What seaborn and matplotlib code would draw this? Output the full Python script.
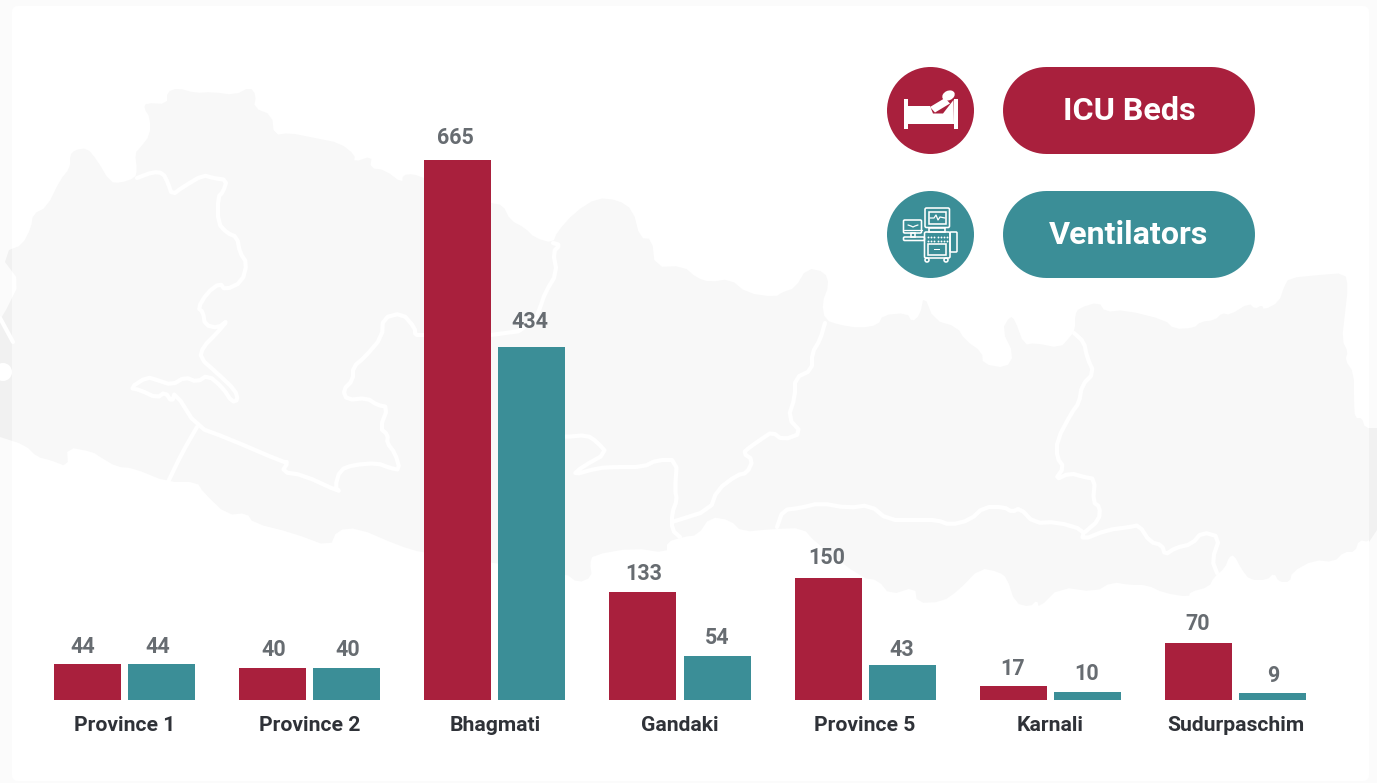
import numpy as np
import pandas as pd
import matplotlib
matplotlib.use("Agg")
import matplotlib.pyplot as plt
from matplotlib.patches import Polygon, Circle, Rectangle, FancyBboxPatch, Ellipse
import seaborn as sns

# ---- data ----
provinces = ["Province 1", "Province 2", "Bhagmati", "Gandaki", "Province 5", "Karnali", "Sudurpaschim"]
icu_beds = [44, 40, 665, 133, 150, 17, 70]
ventilators = [44, 40, 434, 54, 43, 10, 9]
series_names = ["ICU Beds", "Ventilators"]

# ---- layout tweaks for the value labels (pixels: sideways shift, rise above the bar top) ----
label_dx = [[-4.5, 1.5, -2.5, 0.5, -1.5, -0.5, -0.5], [-3.5, 1.5, -1.5, 0.5, -0.5, -0.5, 0.5]]
label_rise = [[17, 18, 22, 18, 20, 17, 19], [17, 18, 25, 18, 15, 18, 17]]

RED = "#a9203d"
TEAL = "#3b8e97"
VALUE_C = "#676c71"
LABEL_C = "#2f3238"
PAGE = "#fbfbfb"
MAP_IN = "#f8f8f8"
MAP_OUT = "#f1f1f1"

sns.set_theme(style="white")
plt.rcParams["font.family"] = ["Roboto", "DejaVu Sans"]

W, H = 1377, 783
fig = plt.figure(figsize=(W / 100, H / 100), dpi=100, facecolor=PAGE)

# ---- decoration layer in pixel coordinates ----
bg = fig.add_axes([0, 0, 1, 1], zorder=0)
bg.set_xlim(0, W)
bg.set_ylim(H, 0)
bg.axis("off")

outline = [(0,320),(6,310),(20,282),(5,262),(9,250),(22,245),(31,228),(33,214),(47,207),(60,180),(70,168),(70,155),
 (75,150),(87,148),(97,160),(110,182),(120,183),(135,178),(137,170),(135,153),(140,148),(150,135),(150,118),(144,108),
 (146,103),(167,104),(167,92),(178,88),(195,93),(212,92),(235,95),(250,87),(256,95),(254,108),(272,115),(274,135),
 (290,133),(310,137),(315,138),(340,143),(355,155),(354,162),(372,156),(370,168),(385,170),(402,183),(403,175),(413,174),
 (424,178),(490,203),(503,205),(510,220),(525,228),(535,238),(553,243),(557,232),(575,212),(597,198),(618,200),(633,210),
 (640,238),(652,239),(655,267),(683,266),(697,278),(710,282),(730,279),(747,293),(775,297),(783,292),(795,288),(807,268),
 (825,272),(829,285),(822,303),(825,320),(840,325),(860,328),(878,325),(883,315),(907,313),(912,322),(920,315),(924,295),
 (934,320),(957,327),(965,340),(982,352),(983,364),(1006,368),(1014,355),(1002,330),(1010,316),(1015,320),(1024,345),
 (1035,343),(1060,348),(1070,337),(1075,330),(1075,315),(1079,308),(1099,302),(1105,312),(1125,310),(1165,320),(1174,329),
 (1194,328),(1200,322),(1215,320),(1222,313),(1230,315),(1249,303),(1255,309),(1262,305),(1264,310),(1279,302),(1284,287),
 (1289,278),(1319,275),(1345,273),(1348,287),(1345,313),(1342,340),(1348,352),(1345,360),(1354,373),(1354,403),(1355,418),
 (1362,418),(1365,428),(1377,428),(1377,530),(1369,542),(1359,540),(1355,552),(1344,552),(1334,562),(1314,560),(1292,572),
 (1290,582),(1279,582),(1274,573),(1267,580),(1250,580),(1242,570),(1234,555),(1229,557),(1225,568),(1214,577),(1209,587),
 (1190,592),(1189,597),(1164,593),(1147,585),(1130,585),(1112,582),(1095,592),(1060,587),(1039,608),(1037,600),(1030,607),
 (1015,603),(1007,578),(999,572),(980,568),(959,590),(942,602),(917,603),(915,587),(890,595),(878,580),(862,578),(815,542),
 (803,528),(773,529),(742,532),(730,520),(710,517),(698,535),(683,537),(667,542),(667,553),(633,548),(593,555),(590,563),
 (592,577),(578,583),(565,573),(423,553),(397,545),(358,528),(337,530),(330,547),(293,533),(253,523),(247,513),(227,515),
 (203,492),(197,482),(167,482),(133,468),(117,467),(100,457),(93,452),(67,447),(68,467),(50,460),(37,457),(25,445),(0,437)]

borders = [
 [(137,178),(153,172),(163,173),(168,183),(172,195),(183,187),(203,175),(213,178),(227,180),(223,192),(218,197),(218,223),
  (227,233),(237,237),(240,253),(247,263),(242,282),(225,290),(220,283),(207,293),(198,308),(203,312),(205,325),(218,328),
  (228,320),(217,333),(203,347),(200,358),(217,373),(235,390),(238,400),(232,402),(223,388),(208,375),(197,382),(185,377),
  (172,385),(157,380),(147,377),(130,388),(140,390),(157,398),(165,392),(172,402),(175,392),(197,427),(227,438),(283,462),
  (288,462),(282,472),(303,475),(340,492),(335,487),(340,470),(353,465),(377,463),(390,468),(400,470),(395,453),(387,443),
  (388,435),(380,428),(388,407),(377,405),(367,398),(347,400),(343,390),(353,380),(353,367),(365,357),(382,337),(383,318),
  (402,313),(415,328),(415,335),(423,335),(513,335),(535,320),(540,308),(545,293),(557,273),(553,252),(560,245),(553,243)],
 [(197,427),(182,453),(168,482)],
 [(500,437),(565,437),(587,435),(597,442),(607,453),(582,467),(573,475),(598,468),(615,467),(643,467),(657,460),(677,460),
  (675,490),(677,500),(672,513),(672,530),(680,537)],
 [(672,522),(710,510),(717,490),(737,475),(747,473),(753,460),(743,453),(750,447),(763,438),(772,432),(783,440),(802,433),
  (788,418),(795,397),(795,378),(812,370),(812,353),(820,340),(825,323)],
 [(777,527),(783,510),(800,508),(820,503),(848,508),(870,505),(888,520),(917,520),(937,520),(950,525),(970,520),(984,507),
  (1004,507),(1012,512),(1020,508),(1034,523),(1057,522),(1084,530),(1082,540),(1107,530),(1130,527),(1139,525),(1150,542),
  (1162,545),(1165,555),(1175,548),(1192,544),(1202,532),(1220,537),(1212,560),(1217,573)],
 [(1074,333),(1084,342),(1087,357),(1094,373),(1082,385),(1079,403),(1072,412),(1057,440),(1057,458),(1064,467),(1055,480),
  (1070,473),(1084,477),(1095,479),(1093,502),(1100,507),(1099,520),(1085,532)],
 [(0,318),(13,342)],
]

def chaikin(pts, closed=False):
    p = np.asarray(pts, float)
    q = np.roll(p, -1, axis=0)
    a, b = 0.75 * p + 0.25 * q, 0.25 * p + 0.75 * q
    if not closed:
        a, b = a[:-1], b[:-1]
        out = np.empty((2 * len(a), 2)); out[0::2] = a; out[1::2] = b
        return np.vstack([p[0], out, p[-1]])
    out = np.empty((2 * len(a), 2)); out[0::2] = a; out[1::2] = b
    return out

def pill(x0, x1, y0, y1):
    r = (y1 - y0) / 2
    cy = (y0 + y1) / 2
    t = np.linspace(-np.pi / 2, np.pi / 2, 40)
    right = np.c_[x1 - r + r * np.cos(t), cy + r * np.sin(t)]
    left = np.c_[x0 + r - r * np.cos(t[::-1]), cy + r * np.sin(t[::-1])]
    return np.vstack([right, left])

# card (white, softly rounded); the map shows darker outside it
bg.add_patch(Polygon(outline, closed=True, fc=MAP_OUT, ec="none", zorder=1))
card = FancyBboxPatch((15, 9), 1351, 769, boxstyle="round,pad=3,rounding_size=6", fc="white", ec="none", zorder=2)
bg.add_patch(card)
m = Polygon(chaikin(outline, True), closed=True, fc=MAP_IN, ec="none", zorder=3)
bg.add_patch(m)
m.set_clip_path(card)
bg.add_patch(Circle((3, 372), 9, fc="white", ec="none", zorder=4))
for b in borders:
    bg.plot(*chaikin(b).T, color="white", lw=3.0, solid_joinstyle="round", solid_capstyle="round", zorder=4)

# ---- legend pills ----
for y0, name, col in zip((67, 191), series_names, (RED, TEAL)):
    bg.add_patch(Circle((930.5, y0 + 43.5), 43.5, fc=col, ec="none", zorder=5))
    bg.add_patch(Polygon(pill(1003, 1255, y0, y0 + 87), closed=True, fc=col, ec="none", zorder=5))
    bg.text(1129, y0 + 44, name, color="white", fontsize=23.2, fontweight="bold", ha="center", va="center", zorder=6)

# bed icon
w = dict(fc="white", ec="none", zorder=6)
bg.add_patch(Rectangle((903.5, 99), 4, 30, **w))
bg.add_patch(Rectangle((953.5, 99), 4, 30, **w))
bg.add_patch(Polygon([(907, 106), (930, 106), (933, 113.5), (943, 113.5), (953.5, 100), (954, 124), (907, 124)], **w))
bg.add_patch(Polygon([(930, 107), (945, 98), (950, 103.5), (935, 112.5)], **w))
bg.add_patch(Ellipse((948.5, 95.5), 13, 9.5, angle=-25, **w))

# ventilator icon
s = dict(fc="none", ec="white", lw=1.15, zorder=6)
lw_thin = 0.9
bg.add_patch(FancyBboxPatch((925, 208), 24.5, 19.5, boxstyle="round,pad=0,rounding_size=1.5", **s))
bg.add_patch(Rectangle((928.5, 212), 17.5, 12, **s))
bg.plot([930, 934, 936, 938, 940, 945], [218, 218, 215, 220, 217, 218], color="white", lw=lw_thin, zorder=6)
bg.add_patch(Rectangle((929, 228), 16, 4, **s))
bg.add_patch(FancyBboxPatch((924.5, 232), 25.5, 26, boxstyle="round,pad=0,rounding_size=1.5", **s))
bg.add_patch(Rectangle((928, 244), 18, 11, **s))
bg.add_patch(Rectangle((934, 249), 6, 1.4, fc="white", ec="none", zorder=6))
for yy in (237, 241):
    bg.scatter(np.arange(928, 948, 3.2), np.full(7, yy), s=1.8, color="white", lw=0, zorder=6)
bg.add_patch(FancyBboxPatch((950, 232), 7, 20, boxstyle="round,pad=0,rounding_size=1", **s))
for xx in (927, 946):
    bg.add_patch(Circle((xx, 260), 2, **s))
bg.add_patch(FancyBboxPatch((903.5, 220), 18, 13, boxstyle="round,pad=0,rounding_size=1.2", **s))
bg.plot([908, 911, 913, 915, 918], [225, 226, 227, 226, 225], color="white", lw=lw_thin, zorder=6)
bg.plot([903.5, 921.5], [229.5, 229.5], color="white", lw=lw_thin, zorder=6)
bg.add_patch(Rectangle((911, 233), 3.5, 3.5, **s))
bg.add_patch(FancyBboxPatch((903.5, 237), 21, 3.5, boxstyle="round,pad=0,rounding_size=1.2", **s))

# ---- bars ----
df = pd.DataFrame({
    "province": provinces * 2,
    "series": [series_names[0]] * len(provinces) + [series_names[1]] * len(provinces),
    "value": icu_beds + ventilators,
})

ax_left, group_w, base_y, top_y = 31.9, 185.17, 700, 10
ax = fig.add_axes([ax_left / W, (H - base_y) / H, 7 * group_w / W, (base_y - top_y) / H], zorder=2)
ax.patch.set_alpha(0)
sns.barplot(data=df, x="province", y="value", hue="series", order=provinces, hue_order=series_names,
            palette=[RED, TEAL], saturation=1, width=0.8, gap=0.0955, legend=False, linewidth=0, ax=ax)
ax.set_xlim(-0.5, 6.5)
ax.set_ylim(0, (base_y - top_y) / 0.8125)
ax.set_xlabel("")
ax.set_ylabel("")
ax.set_yticks([])
ax.tick_params(axis="x", length=0, pad=11.3)
for lab in ax.get_xticklabels():
    lab.set_fontsize(15.2)
    lab.set_fontweight("bold")
    lab.set_color(LABEL_C)
sns.despine(ax=ax, left=True, bottom=True)

px = 72 / 100
for cont, dxs, rises in zip(ax.containers, label_dx, label_rise):
    for bar, dx, rise in zip(cont, dxs, rises):
        h = bar.get_height()
        ax.annotate(f"{int(h)}", (bar.get_x() + bar.get_width() / 2, h), xytext=(dx * px, rise * px),
                    textcoords="offset points", ha="center", va="center",
                    fontsize=15.5, fontweight="bold", color=VALUE_C)

fig.savefig("out.png", dpi=100, facecolor=fig.get_facecolor())
